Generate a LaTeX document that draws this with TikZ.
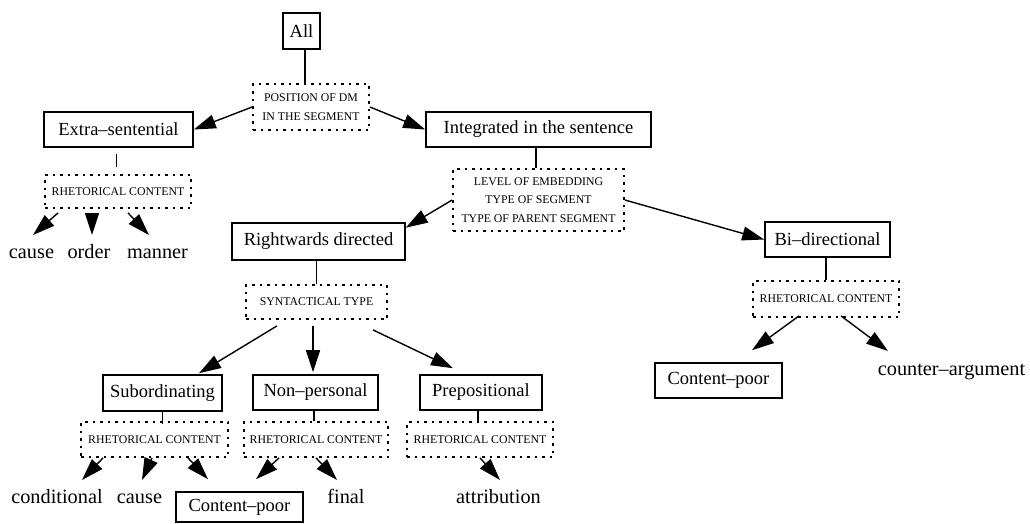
\documentclass[tikz,border=0pt]{standalone}
\usepackage{fontspec}
\setmainfont{Liberation Serif}
\usetikzlibrary{arrows.meta,calc}
\begin{document}
\begin{tikzpicture}[x=1pt,y=-1pt,
 box/.style={draw,line width=1.6pt,inner sep=0pt,font=\fontsize{18.5}{22}\selectfont},
 dbox/.style={draw,line width=1.8pt,dash pattern=on 2.5pt off 5pt,inner sep=0pt,font=\fontsize{11.8}{18.5}\selectfont,align=center},
 leaf/.style={anchor=base,inner sep=0pt,font=\fontsize{20.3}{24}\selectfont},
 arr/.style={line width=1.4pt,-{Triangle[length=22pt,width=14pt]}},
 ln/.style={line width=1.4pt}]
\useasboundingbox (0,0) rectangle (1030,523);
% boxes
\node[box,minimum width=37,minimum height=36] (all) at (301.5,31) {All};
\node[dbox,minimum width=116,minimum height=46] (pos) at (311,107) {POSITION OF DM\\IN THE SEGMENT};
\node[box,minimum width=149,minimum height=35] (extra) at (118.5,129.5) {Extra--sentential};
\node[box,minimum width=225,minimum height=35] (int) at (538.5,129.5) {Integrated in the sentence};
\node[dbox,minimum width=146,minimum height=33] (erhet) at (118,191.5) {RHETORICAL CONTENT};
\node[dbox,minimum width=171,minimum height=62] (level) at (538.5,200) {LEVEL OF EMBEDDING\\TYPE OF SEGMENT\\TYPE OF PARENT SEGMENT};
\node[box,minimum width=173,minimum height=37] (rw) at (318.5,241.5) {Rightwards directed};
\node[box,minimum width=125,minimum height=35] (bi) at (827.5,239.5) {Bi--directional};
\node[dbox,minimum width=141,minimum height=34] (syn) at (316.5,302) {SYNTACTICAL TYPE};
\node[dbox,minimum width=146,minimum height=36] (birhet) at (826,299) {RHETORICAL CONTENT};
\node[box,minimum width=119,minimum height=36] (subord) at (162.5,393) {Subordinating};
\node[box,minimum width=125,minimum height=35] (nonp) at (315.5,392.5) {Non--personal};
\node[box,minimum width=122,minimum height=35] (prep) at (481,392.5) {Prepositional};
\node[dbox,minimum width=147,minimum height=35] (subrhet) at (154.5,439.5) {RHETORICAL CONTENT};
\node[dbox,minimum width=144,minimum height=35] (nonrhet) at (316,439.5) {RHETORICAL CONTENT};
\node[dbox,minimum width=146,minimum height=35] (preprhet) at (480,439.5) {RHETORICAL CONTENT};
\node[box,minimum width=127,minimum height=30] (cpb) at (239.5,507) {Content--poor};
\node[box,minimum width=127,minimum height=35] (cpr) at (718.5,380.5) {Content--poor};
% leaves
\node[leaf] (cause) at (31.5,258) {cause};
\node[leaf] (order) at (89,258) {order};
\node[leaf] (manner) at (157.5,258) {manner};
\node[leaf] (cond) at (57,503) {conditional};
\node[leaf] (cause2) at (139.5,503) {cause};
\node[leaf] (final) at (346,503) {final};
\node[leaf] (attr) at (498.5,503) {attribution};
\node[leaf] (counter) at (951.5,375) {counter--argument};
% plain lines
\draw[ln] ([xshift=3.5pt]all.south) -- ([xshift=3.5pt]all.south |- pos.north);
\draw[ln] ($(extra.south)+(-2,6)$) -- ($(extra.south |- erhet.north)+(-2,-7)$);
\draw[ln] ([xshift=-2.5pt]int.south) -- ([xshift=-2.5pt]int.south |- level.north);
\draw[ln] (syn.north |- rw.south) -- (syn.north);
\draw[ln] (birhet.north |- bi.south) -- (birhet.north);
\draw[ln] (subord.south) -- ($(subord.south |- subrhet.north)+(0,3)$);
\draw[ln] ([xshift=-1.5pt]nonp.south) -- ([xshift=-1.5pt]nonp.south |- nonrhet.north);
\draw[ln] ([xshift=-3pt]prep.south) -- ([xshift=-3pt]prep.south |- preprhet.north);
% arrows
\draw[arr] (pos.west) -- (extra.east);
\draw[arr] (pos.east) -- (int.west);
\draw[arr] (level.west) -- (rw.9);
\draw[arr] (level.east) -- (bi.west);
\draw[arr] ($(erhet.south)+(-60,4)$) -- ($(cause.base)+(1.5,-23)$);
\draw[arr] ($(erhet.south)+(-26,4)$) -- ($(order.base)+(3,-23)$);
\draw[arr] ($(erhet.south)+(10,4)$) -- ($(manner.base)+(-8.5,-23)$);
\draw[arr] ($(syn.south)+(-39.5,6)$) -- ($(subord.north)+(36.5,-1)$);
\draw[arr] ($(syn.south)+(-3.5,6)$) -- ($(nonp.north)+(-2.5,-2)$);
\draw[arr] ($(syn.south)+(56.5,10)$) -- ($(prep.north)+(-28,-6)$);
\draw[arr] ($(subrhet.south)+(-51.5,0)$) -- ($(cond.base)+(25,-23)$);
\draw[arr] ($(subrhet.south)+(-2.5,0)$) -- ($(cause2.base)+(2.5,-23)$);
\draw[arr] ($(subrhet.south)+(33.5,0)$) -- ($(cpb.north)+(-31.5,-12)$);
\draw[arr] ($(nonrhet.south)+(-37,0)$) -- ($(cpb.north)+(16.5,-12)$);
\draw[arr] (nonrhet.south) -- ($(final.base)+(-9,-23)$);
\draw[arr] (preprhet.south) -- ($(attr.base)+(1.5,-23)$);
\draw[arr] ($(birhet.south)+(-27,-2)$) -- ($(cpr.north)+(33.5,-12)$);
\draw[arr] ($(birhet.south)+(15,-2)$) -- ($(counter.base)+(-63.5,-24)$);
\end{tikzpicture}
\end{document}
